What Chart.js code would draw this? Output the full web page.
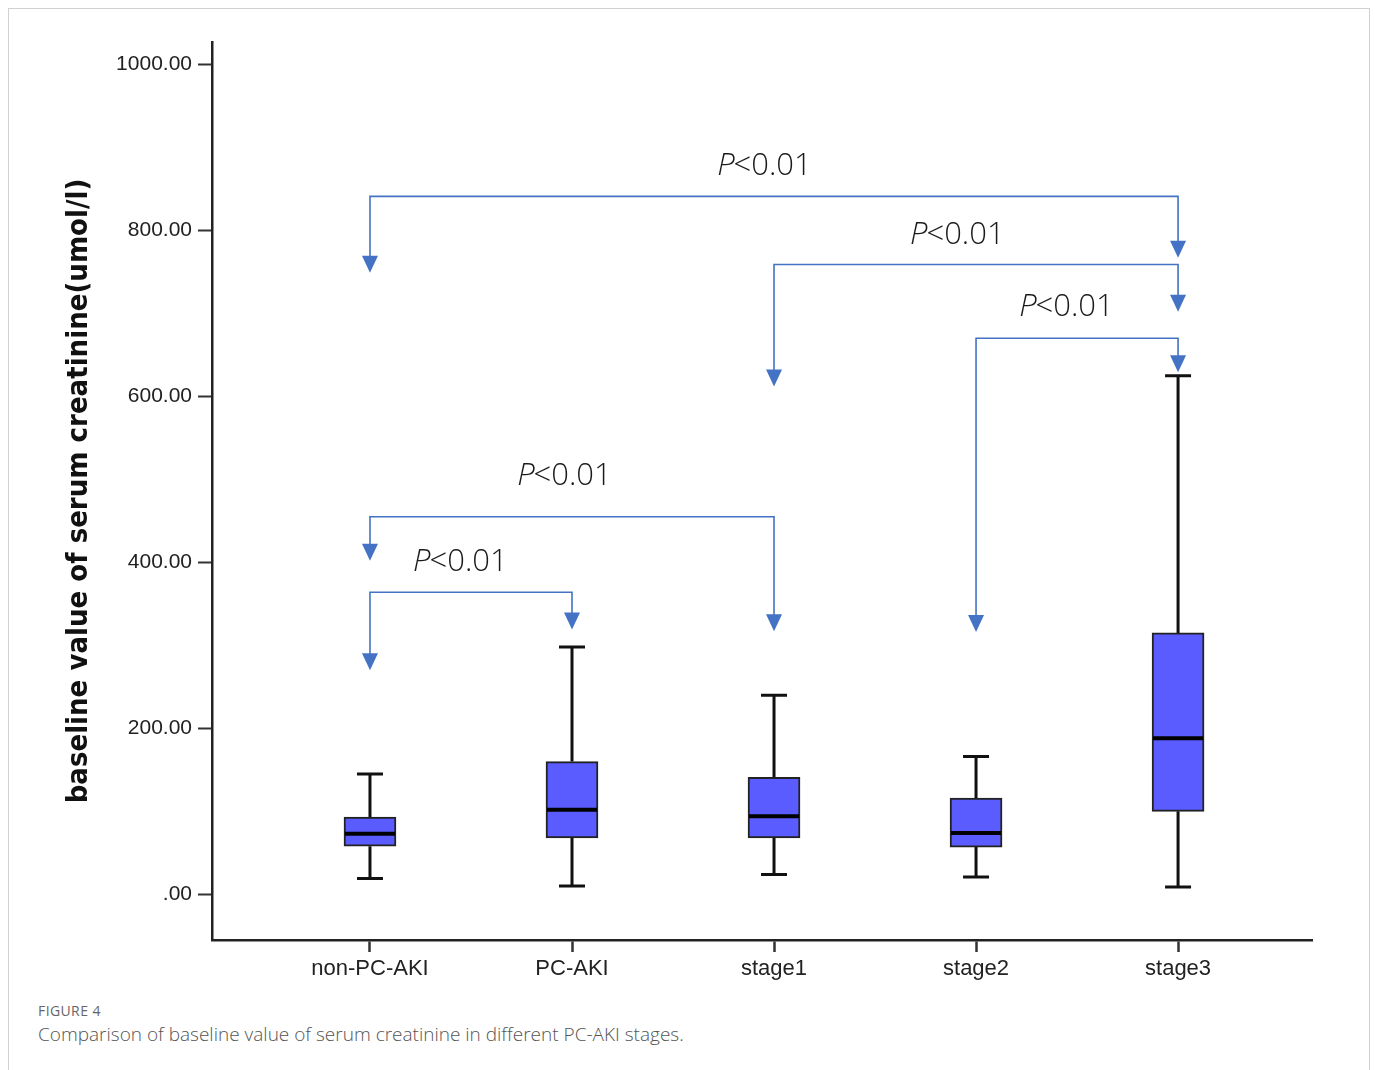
<!DOCTYPE html>
<html>
<head>
<meta charset="utf-8">
<script src="https://cdn.jsdelivr.net/npm/chart.js@4"></script>
<style>
  body { margin: 0; background: #fff; width: 1375px; height: 1070px; overflow: hidden; position: relative; }
  .frame { position: absolute; left: 8px; top: 8px; width: 1360px; height: 1100px; border: 1px solid #d0d0d0; }
  #chart { position: absolute; left: 0; top: 0; }
  .fig { position: absolute; left: 38px; top: 1001px; font-family: "Open Sans", sans-serif; font-size: 14px; color: #666; letter-spacing: 0.4px; }
  .caption { position: absolute; left: 38px; top: 1021px; font-family: "Open Sans", sans-serif; font-size: 19px; color: #555; font-weight: 300; }
</style>
</head>
<body>
<div class="frame"></div>
<canvas id="chart" width="1375" height="1000"></canvas>
<div class="fig">FIGURE 4</div>
<div class="caption">Comparison of baseline value of serum creatinine in different PC-AKI stages.</div>
<script>
"use strict";

// categories and box statistics (umol/l)
const categories = ["non-PC-AKI", "PC-AKI", "stage1", "stage2", "stage3"];
const whiskerLow = [19, 10, 24, 21, 9];
const q1 = [58, 68, 68, 57, 100];
const median = [73, 102, 94, 74, 188];
const q3 = [93, 160, 141, 116, 315];
const whiskerHigh = [145, 298, 240, 166, 625];

const yTicks = [0, 200, 400, 600, 800, 1000];

// significance brackets (category index / value)
const bracketFrom = [0, 2, 3, 0, 0];
const bracketTo = [4, 4, 4, 2, 1];
const bracketTop = [841, 759, 670, 455, 364];
const bracketFromTip = [749, 612, 316, 402, 270];
const bracketToTip = [767, 702, 629, 317, 319];
const labelX = [1.955, 2.91, 3.45, 0.965, 0.45];
const labelY = [877, 794, 707, 504, 400];

const BOX_W = 52;
const CAP_W = 26;
const BLUE = "#4472c4";

const boxPlugin = {
  id: "boxParts",
  beforeDatasetsDraw(chart) {
    const { ctx, scales: { x, y } } = chart;
    ctx.save();
    ctx.strokeStyle = "#111";
    ctx.lineWidth = 3;
    categories.forEach((c, i) => {
      const px = x.getPixelForValue(i);
      ctx.beginPath();
      ctx.moveTo(px, y.getPixelForValue(whiskerHigh[i]));
      ctx.lineTo(px, y.getPixelForValue(q3[i]));
      ctx.moveTo(px, y.getPixelForValue(q1[i]));
      ctx.lineTo(px, y.getPixelForValue(whiskerLow[i]));
      [whiskerHigh[i], whiskerLow[i]].forEach((v) => {
        const py = y.getPixelForValue(v);
        ctx.moveTo(px - CAP_W / 2, py);
        ctx.lineTo(px + CAP_W / 2, py);
      });
      ctx.stroke();
    });
    ctx.restore();
  },
  afterDatasetsDraw(chart) {
    const { ctx, scales: { x, y } } = chart;
    ctx.save();
    ctx.strokeStyle = "#000";
    ctx.lineWidth = 4;
    categories.forEach((c, i) => {
      const px = x.getPixelForValue(i);
      const py = y.getPixelForValue(median[i]);
      ctx.beginPath();
      ctx.moveTo(px - BOX_W / 2 + 1, py);
      ctx.lineTo(px + BOX_W / 2 - 1, py);
      ctx.stroke();
    });

    // brackets
    const arrow = (px, tipY) => {
      ctx.beginPath();
      ctx.moveTo(px - 8, tipY - 17);
      ctx.lineTo(px + 8, tipY - 17);
      ctx.lineTo(px, tipY);
      ctx.closePath();
      ctx.fill();
    };
    ctx.strokeStyle = BLUE;
    ctx.fillStyle = BLUE;
    ctx.lineWidth = 1.6;
    bracketFrom.forEach((from, k) => {
      const x1 = x.getPixelForValue(from);
      const x2 = x.getPixelForValue(bracketTo[k]);
      const top = y.getPixelForValue(bracketTop[k]);
      const t1 = y.getPixelForValue(bracketFromTip[k]);
      const t2 = y.getPixelForValue(bracketToTip[k]);
      ctx.beginPath();
      ctx.moveTo(x1, t1 - 16);
      ctx.lineTo(x1, top);
      ctx.lineTo(x2, top);
      ctx.lineTo(x2, t2 - 16);
      ctx.stroke();
      arrow(x1, t1);
      arrow(x2, t2);
    });

    // P labels
    ctx.fillStyle = "#1a1a1a";
    ctx.textBaseline = "middle";
    ctx.textAlign = "left";
    labelX.forEach((lx, k) => {
      const cx = x.getPixelForValue(lx);
      const cy = y.getPixelForValue(labelY[k]);
      ctx.font = "italic 300 31px 'Open Sans'";
      const wP = ctx.measureText("P").width;
      ctx.font = "300 31px 'Open Sans'";
      const wR = ctx.measureText("<0.01").width;
      const sx = cx - (wP + wR) / 2;
      ctx.font = "italic 300 31px 'Open Sans'";
      ctx.fillText("P", sx, cy);
      ctx.font = "300 31px 'Open Sans'";
      ctx.fillText("<0.01", sx + wP - 1, cy);
    });
    ctx.restore();
  },
};

new Chart(document.getElementById("chart"), {
  type: "bar",
  data: {
    datasets: [
      {
        data: categories.map((c, i) => ({ x: i, y: [q1[i], q3[i]] })),
        backgroundColor: "#5a5cff",
        borderColor: "#222",
        borderWidth: 2,
        borderSkipped: false,
        barThickness: BOX_W,
      },
    ],
  },
  options: {
    responsive: false,
    animation: false,
    layout: { padding: { top: 42, right: 63, left: 0, bottom: 0 } },
    plugins: { legend: { display: false }, tooltip: { enabled: false } },
    scales: {
      x: {
        type: "linear",
        min: -0.782,
        max: 4.663,
        offset: false,
        afterFit: (s) => { s.height = 60; },
        afterBuildTicks: (s) => { s.ticks = categories.map((c, i) => ({ value: i })); },
        border: { color: "#222", width: 2.5 },
        grid: { offset: false, drawOnChartArea: false, tickLength: 12, color: "#333", tickWidth: 2.5 },
        ticks: {
          callback: (v) => categories[v],
          color: "#222",
          padding: 4,
          maxRotation: 0,
          font: { family: "'Liberation Sans', Arial", size: 22 },
        },
      },
      y: {
        min: -55,
        max: 1027,
        afterFit: (s) => { s.width = 212; },
        afterBuildTicks: (s) => { s.ticks = yTicks.map((v) => ({ value: v })); },
        border: { color: "#222", width: 2.5 },
        grid: { drawOnChartArea: false, tickLength: 14, color: "#333", tickWidth: 2 },
        ticks: {
          callback: (v) => (v === 0 ? ".00" : v.toFixed(2)),
          color: "#222",
          padding: 6,
          font: { family: "'Liberation Sans', Arial", size: 21 },
        },
        title: {
          display: true,
          text: "baseline value of serum creatinine(umol/l)",
          color: "#111",
          padding: { top: 62 },
          font: { family: "'Liberation Sans Narrow', 'DejaVu Sans Condensed', sans-serif", size: 29, weight: "bold" },
        },
      },
    },
  },
  plugins: [boxPlugin],
});
</script>
</body>
</html>
